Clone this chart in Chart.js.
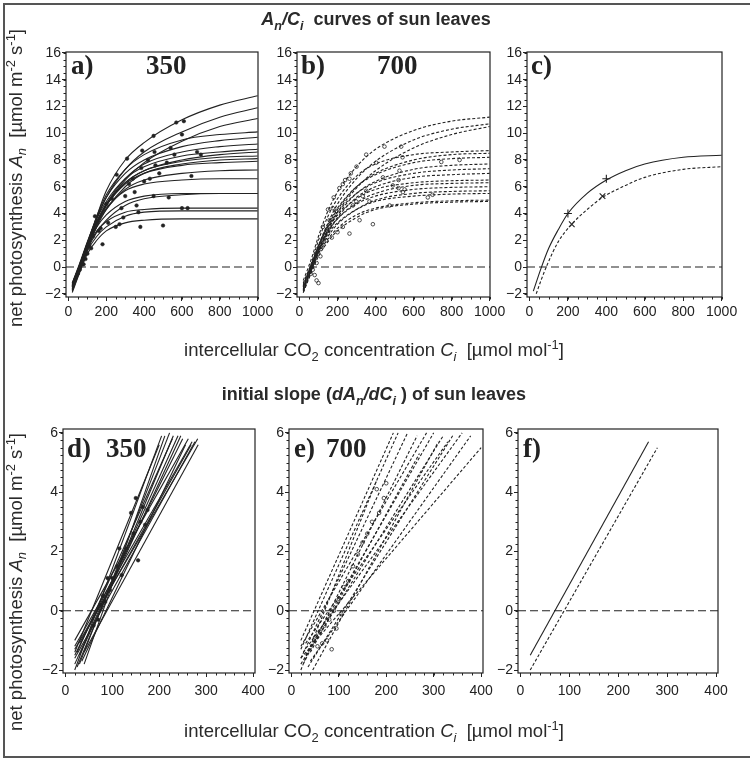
<!DOCTYPE html>
<html>
<head>
<meta charset="utf-8">
<script src="https://cdn.jsdelivr.net/npm/chart.js@4/dist/chart.umd.min.js"></script>
<style>
html, body { margin: 0; padding: 0; background: #fff; }
#fig { position: relative; width: 750px; height: 765px; overflow: hidden; font-family: "Liberation Sans", Arial, sans-serif; color: #2a2a2a; }
#fig canvas { position: absolute; left: 0; top: 0; }
.frame { position: absolute; left: 3px; top: 3px; width: 760px; height: 751px; border: 2px solid #555; }
.t { position: absolute; white-space: nowrap; line-height: 1; }
.title { font-weight: bold; font-size: 18px; transform: translateX(-50%); }
.xlab { font-size: 18.5px; transform: translateX(-50%); }
.ylab { font-size: 18.5px; transform: translate(-50%, -50%) rotate(-90deg); }
.pl { font-family: "Liberation Serif", "Times New Roman", serif; font-weight: bold; font-size: 27px; color: #222; }
sub, sup { font-size: 70%; line-height: 0; }
</style>
</head>
<body>
<div id="fig">
  <div class="frame"></div>
  <canvas id="ca" width="750" height="765"></canvas>
  <canvas id="cb" width="750" height="765"></canvas>
  <canvas id="cc" width="750" height="765"></canvas>
  <canvas id="cd" width="750" height="765"></canvas>
  <canvas id="ce" width="750" height="765"></canvas>
  <canvas id="cf" width="750" height="765"></canvas>

  <div class="t title" style="left:376px; top:10px;"><i>A<sub>n</sub>/C<sub>i</sub></i>&nbsp; curves of sun leaves</div>
  <div class="t title" style="left:374px; top:385px;">initial slope (<i>dA<sub>n</sub>/dC<sub>i</sub></i> ) of sun leaves</div>
  <div class="t xlab" style="left:374px; top:341px;">intercellular CO<sub>2</sub> concentration <i>C<sub>i</sub></i>&nbsp; [µmol mol<sup>-1</sup>]</div>
  <div class="t xlab" style="left:374px; top:722px;">intercellular CO<sub>2</sub> concentration <i>C<sub>i</sub></i>&nbsp; [µmol mol<sup>-1</sup>]</div>
  <div class="t ylab" style="left:16px; top:178px;">net photosynthesis <i>A<sub>n</sub></i>&nbsp; [µmol m<sup>-2</sup> s<sup>-1</sup>]</div>
  <div class="t ylab" style="left:16px; top:582px;">net photosynthesis <i>A<sub>n</sub></i>&nbsp; [µmol m<sup>-2</sup> s<sup>-1</sup>]</div>

  <div class="t pl" style="left:71px; top:52px;">a)</div>
  <div class="t pl" style="left:146px; top:52px;">350</div>
  <div class="t pl" style="left:301px; top:52px;">b)</div>
  <div class="t pl" style="left:377px; top:52px;">700</div>
  <div class="t pl" style="left:531px; top:52px;">c)</div>
  <div class="t pl" style="left:67px; top:435px;">d)</div>
  <div class="t pl" style="left:106px; top:435px;">350</div>
  <div class="t pl" style="left:294px; top:435px;">e)</div>
  <div class="t pl" style="left:326px; top:435px;">700</div>
  <div class="t pl" style="left:523px; top:435px;">f)</div>
</div>
<script>
// ─── DATA ─────────────────────────────────────────────────────────────────────
const TOP_X_TICKS = [0, 200, 400, 600, 800, 1000];
const TOP_Y_TICKS = [-2, 0, 2, 4, 6, 8, 10, 12, 14, 16];
const BOT_X_TICKS = [0, 100, 200, 300, 400];
const BOT_Y_TICKS = [-2, 0, 2, 4, 6];

// a) 350 ppm, fitted A/Ci curves (An read at these Ci)
const A_CI = [20, 60, 100, 150, 200, 300, 400, 600, 800, 1000];
const A_CURVES = [
  [-1.6, -0.1, 1.6, 3.8, 5.7, 8.0, 9.3, 11.0, 12.1, 12.8],
  [-1.5, 0.0, 1.6, 3.6, 5.2, 7.3, 8.6, 10.1, 11.2, 11.9],
  [-1.7, -0.2, 1.3, 3.1, 4.6, 6.5, 7.8, 9.4, 10.5, 11.1],
  [-1.4, 0.1, 1.8, 3.8, 5.4, 7.3, 8.4, 9.5, 9.9, 10.1],
  [-1.3, 0.2, 1.8, 3.7, 5.2, 7.0, 8.0, 9.0, 9.45, 9.7],
  [-1.6, -0.1, 1.5, 3.3, 4.7, 6.6, 7.7, 8.6, 9.0, 9.2],
  [-1.2, 0.3, 1.9, 3.6, 4.9, 6.6, 7.5, 8.3, 8.6, 8.8],
  [-1.5, 0.0, 1.6, 3.3, 4.6, 6.3, 7.2, 8.0, 8.4, 8.6],
  [-1.4, 0.1, 1.7, 3.4, 4.7, 6.3, 7.2, 7.9, 8.2, 8.3],
  [-1.8, -0.3, 1.3, 3.0, 4.3, 6.0, 7.0, 7.7, 8.0, 8.1],
  [-1.3, 0.2, 1.8, 3.4, 4.6, 6.2, 7.0, 7.6, 7.8, 7.9],
  [-1.5, 0.0, 1.6, 3.2, 4.3, 5.8, 6.5, 7.0, 7.2, 7.25],
  [-1.4, 0.1, 1.7, 3.3, 4.4, 5.7, 6.2, 6.5, 6.6, 6.6],
  [-1.2, 0.2, 1.7, 3.0, 3.9, 4.9, 5.3, 5.5, 5.5, 5.5],
  [-1.7, -0.2, 1.3, 2.6, 3.5, 4.6, 5.1, 5.4, 5.5, 5.5],
  [-1.3, 0.1, 1.5, 2.7, 3.4, 4.1, 4.3, 4.4, 4.4, 4.4],
  [-1.6, -0.2, 1.2, 2.3, 3.0, 3.8, 4.1, 4.2, 4.2, 4.2],
  [-1.9, -0.4, 1.0, 2.0, 2.7, 3.3, 3.5, 3.6, 3.6, 3.6],
];
const A_PTS_X = [50, 60, 70, 80, 90, 100, 110, 120, 130, 140, 150, 160, 170, 180, 200, 210, 230, 250, 255, 270,
  280, 290, 300, 310, 320, 340, 350, 360, 370, 380, 385, 390, 400, 420, 430, 450, 455, 460, 450, 480,
  500, 520, 530, 540, 560, 570, 600, 600, 610, 630, 650, 680, 700];
const A_PTS_Y = [-0.5, -0.2, 0.3, 0.2, 0.6, 1.0, 1.6, 1.4, 2.3, 3.8, 3.4, 2.7, 2.9, 1.7, 4.7, 3.3, 5.1, 3.0, 6.9, 3.2,
  4.4, 3.7, 5.3, 8.1, 6.2, 6.6, 5.6, 4.6, 4.1, 3.0, 7.4, 8.7, 6.4, 8.0, 6.6, 9.8, 8.6, 7.6, 5.3, 7.0,
  3.1, 7.8, 5.2, 8.9, 8.4, 10.8, 4.4, 9.9, 10.9, 4.4, 6.8, 8.6, 8.4];

// b) 700 ppm
const B_CI = [20, 60, 100, 150, 200, 300, 400, 600, 800, 1000];
const B_CURVES = [
  [-1.0, 0.5, 2.3, 4.2, 5.6, 7.5, 8.8, 10.2, 10.9, 11.2],
  [-1.5, 0.0, 1.6, 3.3, 4.7, 6.6, 7.9, 9.5, 10.3, 10.7],
  [-1.8, -0.3, 1.2, 2.8, 4.1, 5.9, 7.2, 8.9, 9.9, 10.5],
  [-1.2, 0.2, 2.0, 3.8, 5.1, 6.8, 7.7, 8.4, 8.6, 8.7],
  [-1.6, -0.1, 1.5, 3.1, 4.3, 6.0, 7.0, 8.0, 8.4, 8.5],
  [-1.4, 0.1, 1.6, 3.2, 4.4, 6.0, 6.9, 7.8, 8.1, 8.2],
  [-1.7, -0.2, 1.3, 2.8, 3.9, 5.5, 6.4, 7.3, 7.6, 7.7],
  [-1.5, 0.0, 1.5, 3.0, 4.1, 5.5, 6.3, 7.0, 7.25, 7.35],
  [-1.9, -0.4, 1.1, 2.6, 3.7, 5.2, 6.0, 6.7, 6.9, 7.0],
  [-1.3, 0.1, 1.6, 3.0, 3.9, 5.1, 5.8, 6.3, 6.45, 6.5],
  [-1.6, -0.2, 1.2, 2.6, 3.6, 4.8, 5.5, 6.1, 6.25, 6.3],
  [-1.4, 0.0, 1.4, 2.7, 3.6, 4.7, 5.3, 5.8, 5.95, 6.0],
  [-1.8, -0.3, 1.1, 2.3, 3.2, 4.3, 5.0, 5.5, 5.65, 5.7],
  [-1.5, 0.0, 1.3, 2.5, 3.3, 4.3, 4.9, 5.3, 5.45, 5.5],
  [-1.7, -0.3, 1.0, 2.1, 2.9, 3.9, 4.4, 4.8, 4.95, 5.0],
  [-1.9, -0.5, 0.8, 1.9, 2.7, 3.7, 4.3, 4.7, 4.85, 4.9],
];
const B_PTS_X = [60, 70, 80, 90, 90, 100, 110, 120, 123, 140, 150, 150, 158, 170, 175, 180, 193, 200, 210, 228,
  228, 240, 263, 263, 270, 281, 298, 300, 316, 333, 351, 351, 368, 386, 404, 439, 447, 474, 491, 521,
  521, 526, 535, 542, 544, 553, 675, 700, 746, 842];
const B_PTS_Y = [-0.5, -0.2, -0.6, -1.0, 0.3, -1.2, 0.8, 1.5, 3.0, 2.0, 2.5, 4.3, 3.5, 2.2, 4.4, 5.2, 4.2, 2.6, 5.9, 6.2,
  3.0, 6.5, 6.6, 2.5, 7.0, 4.6, 4.9, 7.5, 3.5, 5.3, 8.4, 5.7, 4.9, 3.2, 7.8, 6.7, 9.0, 4.6, 6.1, 6.5,
  5.9, 7.2, 9.0, 8.2, 5.6, 5.8, 5.2, 5.4, 7.85, 8.0];

// c) mean curves: 350 (solid) and 700 (dashed)
const C_SOLID_X = [20, 60, 100, 150, 200, 300, 400, 500, 600, 800, 1000];
const C_SOLID_Y = [-1.8, -0.1, 1.4, 2.8, 4.0, 5.5, 6.5, 7.2, 7.7, 8.2, 8.35];
const C_DASH_X = [35, 60, 90, 150, 220, 300, 380, 500, 600, 800, 1000];
const C_DASH_Y = [-2.0, -1.0, 0.1, 1.9, 3.2, 4.3, 5.2, 6.1, 6.7, 7.3, 7.5];
const C_MARK_SOLID_X = [200, 400];
const C_MARK_SOLID_Y = [4.0, 6.6];
const C_MARK_DASH_X = [220, 380];
const C_MARK_DASH_Y = [3.2, 5.3];

// d) initial slopes 350: [Ci start, An start, Ci end, An end]
const D_LINES = [
  [20, -1.0, 262, 5.8], [20, -1.2, 270, 5.7], [20, -1.3, 282, 5.8], [20, -1.5, 250, 5.8],
  [20, -1.6, 276, 5.7], [20, -1.8, 240, 5.9], [20, -2.0, 205, 5.9], [30, -1.8, 222, 6.0],
  [40, -1.8, 212, 5.9], [25, -1.4, 228, 5.8], [30, -1.1, 268, 5.6], [35, -1.7, 256, 5.6],
  [20, -1.4, 200, 5.6], [40, -1.4, 283, 5.6], [25, -1.9, 230, 5.9], [30, -1.5, 246, 5.9],
];
const D_PTS_X = [60, 70, 75, 80, 85, 90, 95, 100, 110, 115, 120, 130, 140, 145, 150, 155, 160, 165, 170, 175];
const D_PTS_Y = [-0.5, -0.3, 0.2, 0.5, 0.3, 1.1, 0.7, 1.1, 1.5, 2.1, 1.2, 2.1, 3.3, 2.6, 3.8, 1.7, 3.0, 3.5, 2.9, 3.4];

// e) initial slopes 700
const E_LINES = [
  [20, -1.0, 215, 6.0], [20, -1.3, 225, 6.0], [20, -1.6, 245, 6.0], [20, -2.0, 180, 4.4],
  [25, -1.8, 265, 5.9], [20, -1.2, 285, 6.0], [30, -1.5, 300, 6.0], [20, -1.8, 320, 5.9],
  [35, -1.9, 340, 5.9], [25, -1.4, 360, 6.0], [40, -1.7, 378, 5.9], [20, -1.6, 400, 5.5],
  [30, -1.1, 330, 5.7], [45, -2.0, 310, 5.7], [40, -1.4, 270, 5.3],
];
const E_PTS_X = [50, 55, 60, 65, 70, 75, 80, 85, 90, 95, 100, 105, 110, 120, 130, 140, 150, 160, 170, 180, 185, 195, 200];
const E_PTS_Y = [-0.9, -1.2, -0.7, -1.1, -0.5, -1.0, -0.3, -1.3, 0.0, -0.6, 0.4, -0.1, 0.8, 1.0, 1.5, 1.9, 2.3, 2.6, 3.0, 4.1, 3.3, 3.8, 4.3];

// f) mean initial slopes
const F_SOLID = [20, -1.5, 262, 5.7];
const F_DASH = [20, -2.0, 280, 5.5];

// ─── STYLE ────────────────────────────────────────────────────────────────────
const W = 750, H = 765, YW = 40, XH = 26;
const INK = "#222";
const TICK_FONT = { family: "'Liberation Sans Narrow', 'Liberation Sans', Arial, sans-serif", size: 14 };
const DASH = [3, 2];

// ─── HELPERS ──────────────────────────────────────────────────────────────────
const fmt = v => (v < 0 ? "\u2212" + (-v) : String(v));
const zip = (xs, ys) => xs.map((x, i) => ({ x, y: ys[i] }));

function curve(xs, ys, dash) {
  return {
    data: zip(xs, ys), showLine: true, pointRadius: 0, borderColor: INK, borderWidth: 1.1,
    borderDash: dash || [], cubicInterpolationMode: "monotone",
  };
}
function segment(l, dash) {
  return {
    data: [{ x: l[0], y: l[1] }, { x: l[2], y: l[3] }], showLine: true, pointRadius: 0,
    borderColor: INK, borderWidth: 1.1, borderDash: dash || [],
  };
}
function dots(xs, ys, open) {
  return {
    data: zip(xs, ys), showLine: false, pointRadius: open ? 1.8 : 1.8,
    pointBackgroundColor: open ? "rgba(255,255,255,0)" : INK,
    pointBorderColor: INK, pointBorderWidth: open ? 0.8 : 0.5,
  };
}
function marks(xs, ys, style) {
  return {
    data: zip(xs, ys), showLine: false, pointStyle: style, pointRadius: 4,
    pointBorderColor: INK, pointBorderWidth: 1.1,
  };
}

// zero reference line, plot frame and minor ticks
const framePlugin = {
  id: "frame",
  beforeDatasetsDraw(chart) {
    const { ctx, chartArea: a, scales: { y } } = chart;
    const y0 = y.getPixelForValue(0);
    ctx.save();
    ctx.strokeStyle = INK; ctx.lineWidth = 1.1; ctx.setLineDash([8, 4]);
    ctx.beginPath(); ctx.moveTo(a.left, y0); ctx.lineTo(a.right, y0); ctx.stroke();
    ctx.restore();
  },
  afterDraw(chart, args, opts) {
    const { ctx, chartArea: a, scales: { x, y } } = chart;
    ctx.save();
    ctx.strokeStyle = INK; ctx.lineWidth = 1.2;
    ctx.strokeRect(a.left, a.top, a.width, a.height);
    ctx.lineWidth = 1;
    ctx.beginPath();
    for (let v = Math.ceil(x.min / opts.xMinor) * opts.xMinor; v <= x.max; v += opts.xMinor) {
      const px = Math.round(x.getPixelForValue(v)) + 0.5;
      ctx.moveTo(px, a.bottom); ctx.lineTo(px, a.bottom + 2.5);
    }
    for (let v = Math.ceil(y.min / opts.yMinor) * opts.yMinor; v <= y.max; v += opts.yMinor) {
      const py = Math.round(y.getPixelForValue(v)) + 0.5;
      ctx.moveTo(a.left, py); ctx.lineTo(a.left - 2.5, py);
    }
    ctx.stroke();
    ctx.restore();
  },
};

const TOP_X = { min: -13, max: 1002, ticks: TOP_X_TICKS, minor: 50, pad: 3 };
const TOP_Y = { min: -2.24, max: 16.07, ticks: TOP_Y_TICKS, minor: 0.5 };
const BOT_X = { min: -5, max: 404, ticks: BOT_X_TICKS, minor: 20, pad: 6 };
const BOT_Y = { min: -2.1, max: 6.13, ticks: BOT_Y_TICKS, minor: 0.25 };

function panel(id, box, xr, yr, datasets) {
  return new Chart(document.getElementById(id), {
    type: "scatter",
    data: { datasets },
    options: {
      responsive: false, animation: false, events: [],
      layout: { padding: { left: box.l - YW, top: box.t, right: W - box.r, bottom: H - box.b - XH } },
      plugins: { legend: { display: false }, tooltip: { enabled: false }, frame: { xMinor: xr.minor, yMinor: yr.minor } },
      scales: {
        x: {
          type: "linear", min: xr.min, max: xr.max,
          afterBuildTicks: s => { s.ticks = xr.ticks.map(v => ({ value: v })); },
          afterFit: s => { s.height = XH; },
          grid: { drawOnChartArea: false, drawTicks: true, tickLength: 4, color: INK },
          border: { display: false },
          ticks: { color: INK, font: TICK_FONT, padding: xr.pad, maxRotation: 0, autoSkip: false, callback: fmt },
        },
        y: {
          type: "linear", min: yr.min, max: yr.max,
          afterBuildTicks: s => { s.ticks = yr.ticks.map(v => ({ value: v })); },
          afterFit: s => { s.width = YW; },
          grid: { drawOnChartArea: false, drawTicks: true, tickLength: 4, color: INK },
          border: { display: false },
          ticks: { color: INK, font: TICK_FONT, padding: 1, autoSkip: false, callback: fmt },
        },
      },
    },
    plugins: [framePlugin],
  });
}

// ─── PANELS ───────────────────────────────────────────────────────────────────
panel("ca", { l: 66, t: 52, r: 258, b: 297 }, TOP_X, TOP_Y, [
  ...A_CURVES.map(ys => curve(A_CI, ys)),
  dots(A_PTS_X, A_PTS_Y, false),
]);
panel("cb", { l: 297, t: 52, r: 490, b: 297 }, TOP_X, TOP_Y, [
  ...B_CURVES.map(ys => curve(B_CI, ys, DASH)),
  dots(B_PTS_X, B_PTS_Y, true),
]);
panel("cc", { l: 527, t: 52, r: 722, b: 297 }, TOP_X, TOP_Y, [
  curve(C_SOLID_X, C_SOLID_Y),
  curve(C_DASH_X, C_DASH_Y, DASH),
  marks(C_MARK_SOLID_X, C_MARK_SOLID_Y, "cross"),
  marks(C_MARK_DASH_X, C_MARK_DASH_Y, "crossRot"),
]);
panel("cd", { l: 63, t: 429, r: 255, b: 673 }, BOT_X, BOT_Y, [
  ...D_LINES.map(l => segment(l)),
  dots(D_PTS_X, D_PTS_Y, false),
]);
panel("ce", { l: 289, t: 429, r: 483, b: 673 }, BOT_X, BOT_Y, [
  ...E_LINES.map(l => segment(l, DASH)),
  dots(E_PTS_X, E_PTS_Y, true),
]);
panel("cf", { l: 518, t: 429, r: 718, b: 673 }, BOT_X, BOT_Y, [
  segment(F_SOLID),
  segment(F_DASH, DASH),
]);
</script>
</body>
</html>
